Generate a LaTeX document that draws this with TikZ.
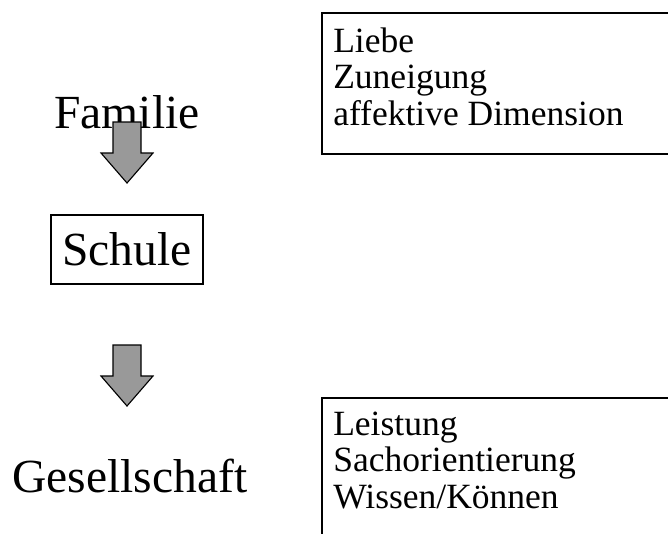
\documentclass[tikz,border=0pt]{standalone}
\usepackage{fontspec}
\setmainfont{Liberation Serif}
\definecolor{arrowgray}{gray}{0.6}
\newcommand{\bigsize}{\fontsize{33.8pt}{36pt}\selectfont}
\newcommand{\smallsize}{\fontsize{25.25pt}{26pt}\selectfont}
\begin{document}
\begin{tikzpicture}[x=0.025cm,y=-0.025cm,
  bigtext/.style={font=\bigsize,inner sep=0pt},
  linetext/.style={font=\smallsize,inner sep=0pt,anchor=base west},
  blockarrow/.style={fill=arrowgray,draw=black,line width=0.8pt,line join=miter}]
\useasboundingbox (0,0) rectangle (668,533);
\clip (0,0) rectangle (668,533);
% left column
\node[bigtext,anchor=base] (familie) at (127,128) {Familie};
\node[bigtext,draw,line width=0.8pt,minimum width=3.8cm,minimum height=1.725cm,text height=0.775cm,text depth=0pt] (schule) at (127,249.5) {Schule};
\node[bigtext,anchor=base west] (gesellschaft) at (12,492) {Gesellschaft};
\foreach \y in {122,345}
  \draw[blockarrow] (113,\y) -- (141,\y) -- (141,\y+31) -- (153,\y+31) -- (127,\y+61) -- (101,\y+31) -- (113,\y+31) -- cycle;
% right boxes
\draw[line width=0.8pt] (322,13) rectangle (700,154);
\node[linetext] (liebe) at (333,52) {Liebe};
\node[linetext] (zuneigung) at (333,88.5) {Zuneigung};
\node[linetext] (affektiv) at (333,125) {affektive Dimension};
\draw[line width=0.8pt] (322,398) rectangle (700,560);
\node[linetext] (leistung) at (333,435) {Leistung};
\node[linetext] (sache) at (333,471.5) {Sachorientierung};
\node[linetext] (wissen) at (333,508) {Wissen/Können};
\end{tikzpicture}
\end{document}
